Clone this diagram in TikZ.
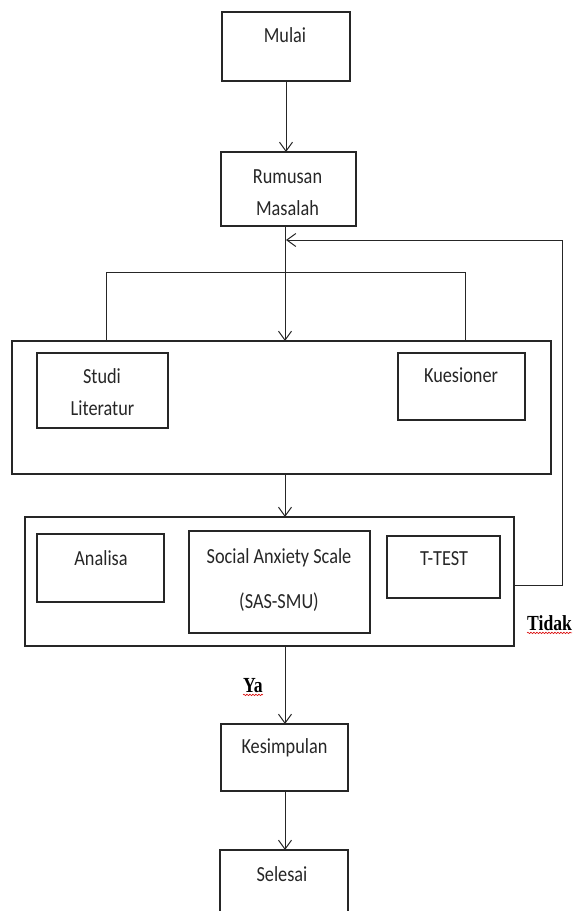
\documentclass[tikz,border=0pt]{standalone}
\usepackage{fontspec}
\setmainfont[FakeStretch=0.85]{Carlito}
\newfontfamily\serifbold[FakeStretch=0.82]{Liberation Serif}
\usetikzlibrary{arrows.meta,decorations.pathmorphing}
\begin{document}
\begin{tikzpicture}[x=1pt,y=-1pt,
  box/.style={draw=black!85,line width=1.3pt,rectangle,inner sep=0pt,outer sep=0pt,anchor=north west},
  txt/.style={font=\fontsize{21.5}{24}\selectfont,text=black!85,inner sep=0pt,anchor=base},
  lbl/.style={font=\serifbold\bfseries\fontsize{21.5}{24}\selectfont,text=black,inner sep=0pt,anchor=base west},
  conn/.style={draw=black!85,line width=1pt},
  arr/.style={conn,-{Straight Barb[length=9pt,width=13pt,line width=1pt]}},
  wavy/.style={draw=red!85!black,line width=0.6pt,decorate,decoration={snake,amplitude=0.7pt,segment length=3pt}}]
\useasboundingbox (0,0) rectangle (576,911);
\clip (0,0) rectangle (576,911);
% boxes
\node[box,minimum width=128pt,minimum height=69pt] (mulai) at (222,12) {};
\node[box,minimum width=135pt,minimum height=74pt] (rumusan) at (221,152) {};
\node[box,minimum width=539pt,minimum height=133pt] (outer1) at (12,341) {};
\node[box,minimum width=131pt,minimum height=75pt] (studi) at (37,353) {};
\node[box,minimum width=127pt,minimum height=67pt] (kues) at (398,353) {};
\node[box,minimum width=489pt,minimum height=129pt] (outer2) at (25,517) {};
\node[box,minimum width=127pt,minimum height=68pt] (analisa) at (37,534) {};
\node[box,minimum width=181pt,minimum height=102pt] (sas) at (189,531) {};
\node[box,minimum width=113pt,minimum height=62pt] (ttest) at (387,536) {};
\node[box,minimum width=127pt,minimum height=67pt] (kesim) at (221,724) {};
\node[box,minimum width=128pt,minimum height=80pt] (selesai) at (220,850) {};
% texts
\node[txt] (tmulai) at (285,42) {Mulai};
\node[txt] (trum1) at (287.5,183) {Rumusan};
\node[txt] (trum2) at (287.5,215) {Masalah};
\node[txt] (tstudi1) at (102,383) {Studi};
\node[txt] (tstudi2) at (102.5,415) {Literatur};
\node[txt] (tkues) at (461,382) {Kuesioner};
\node[txt] (tanalisa) at (101,565) {Analisa};
\node[txt] (tsas1) at (279,563) {Social Anxiety Scale};
\node[txt] (tsas2) at (279,608) {(SAS-SMU)};
\node[txt] (tttest) at (444,565) {T-TEST};
\node[txt] (tkesim) at (284.5,753) {Kesimpulan};
\node[txt] (tselesai) at (282,881) {Selesai};
\node[lbl] (tidak) at (527,630) {Tidak};
\node[lbl] (ya) at (243,692) {Ya};
\draw[wavy] (tidak.south west) ++(0,2.5) -- ([yshift=-2.5pt]tidak.south east);
\draw[wavy] (ya.south west) ++(0,2.5) -- ([yshift=-2.5pt]ya.south east);
% coordinates
\coordinate (colx) at (285,0);
\coordinate (sl) at (106,272);
\coordinate (sr) at (465,272);
\coordinate (fb1) at (562,585);
\coordinate (fb2) at (562,240);
\coordinate (fbt) at (286,240);
% connectors
\draw[arr] (mulai.south) -- (mulai.south |- rumusan.north);
\draw[arr] (rumusan.south -| colx) -- (outer1.north -| colx);
\draw[conn] (outer1.north -| sl) -- (sl) -- (sr) -- (outer1.north -| sr);
\draw[arr] (outer2.east |- fb1) -- (fb1) -- (fb2) -- (fbt);
\draw[arr] (outer1.south -| colx) -- (outer2.north -| colx);
\draw[arr] (outer2.south -| colx) -- (kesim.north -| colx);
\draw[arr] (kesim.south -| colx) -- (selesai.north -| colx);
\end{tikzpicture}
\end{document}
